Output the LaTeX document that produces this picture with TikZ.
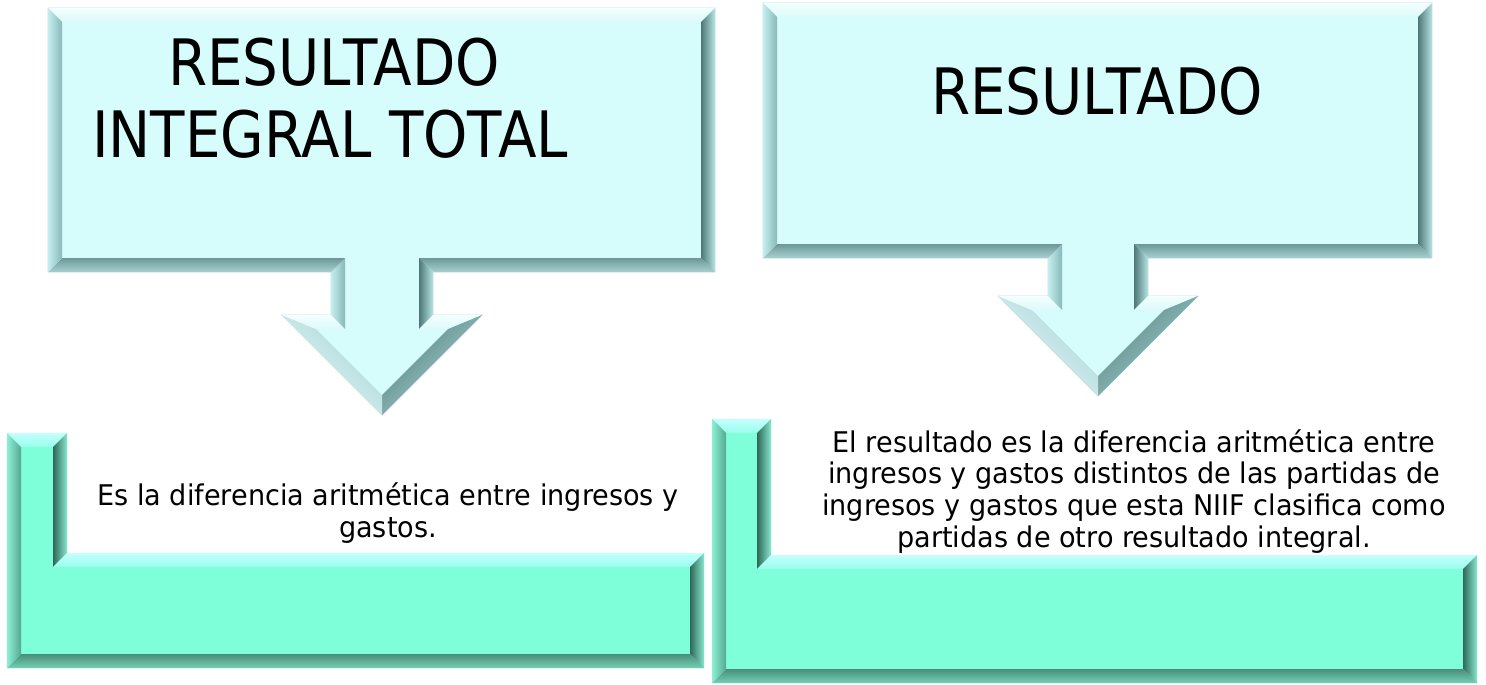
\documentclass[tikz,border=0pt]{standalone}
\usepackage{fontspec}
\newfontfamily\titlefont[FakeStretch=0.88]{DejaVu Sans}
\newfontfamily\bodyfont[FakeStretch=0.95]{DejaVu Sans}
\definecolor{cyBase}{HTML}{D6FCFC}
\definecolor{cyUo}{HTML}{F4FFFF}
\definecolor{cyUi}{HTML}{DCFAFA}
\definecolor{cyLo}{HTML}{C4EEEE}
\definecolor{cyLi}{HTML}{88B8B8}
\definecolor{cyRo}{HTML}{B8E4E4}
\definecolor{cyRi}{HTML}{4E7878}
\definecolor{cyDo}{HTML}{A8D0D0}
\definecolor{cyDi}{HTML}{6E9898}
\definecolor{cyDRo}{HTML}{A8D4D4}
\definecolor{cyDRi}{HTML}{5A8484}
\definecolor{cyDLo}{HTML}{ECFFFF}
\definecolor{cyDLi}{HTML}{A4D0D0}
\definecolor{cyEdge}{HTML}{C8DEDE}
\definecolor{aqBase}{HTML}{7EFFDA}
\definecolor{aqUo}{HTML}{C4FFFF}
\definecolor{aqUi}{HTML}{98FFEA}
\definecolor{aqLo}{HTML}{8AF0D4}
\definecolor{aqLi}{HTML}{56A890}
\definecolor{aqRo}{HTML}{88E8CE}
\definecolor{aqRi}{HTML}{2F6858}
\definecolor{aqDo}{HTML}{74D0B4}
\definecolor{aqDi}{HTML}{4A8E7A}
\newcommand\bv[5]{\path[#1] #2 -- #3 -- #4 -- #5 -- cycle;}
\tikzset{
  cU/.style={top color=cyUo, bottom color=cyUi},
  cD/.style={top color=cyDi, bottom color=cyDo},
  cL/.style={left color=cyLo, right color=cyLi},
  cR/.style={left color=cyRi, right color=cyRo},
  cDR/.style={top color=cyDRi, bottom color=cyDRo, shading angle=45},
  cDL/.style={top color=cyDLi, bottom color=cyDLo, shading angle=-45},
  aU/.style={top color=aqUo, bottom color=aqUi},
  aD/.style={top color=aqDi, bottom color=aqDo},
  aL/.style={left color=aqLo, right color=aqLi},
  aR/.style={left color=aqRi, right color=aqRo},
  titletext/.style={font=\titlefont\fontsize{64}{72}\selectfont, inner sep=0pt},
  bodytext/.style={font=\bodyfont\fontsize{28.5}{31.6}\selectfont, align=center, inner sep=0pt}
}
\begin{document}
\begin{tikzpicture}[x=1pt,y=-1pt]
\fill[white] (0,0) rectangle (1486,685);
\useasboundingbox (0,0) rectangle (1486,685);
% ---------- callout 1 ----------
\fill[cyBase, draw=cyEdge, line width=0.8pt] (48,8) -- (715,8) -- (715,272) -- (433,272) -- (433,315) -- (482,315) -- (382,415) -- (282,315) -- (331,315) -- (331,272) -- (48,272) -- cycle;
\bv{cU}{(48,8)}{(715,8)}{(701,22)}{(62,22)}
\bv{cR}{(715,8)}{(715,272)}{(701,258)}{(701,22)}
\bv{cD}{(715,272)}{(433,272)}{(419,258)}{(701,258)}
\bv{cR}{(433,272)}{(433,315)}{(419,329)}{(419,258)}
\bv{cU}{(433,315)}{(482,315)}{(448.2,329)}{(419,329)}
\bv{cDR}{(482,315)}{(382,415)}{(382,395.2)}{(448.2,329)}
\bv{cDL}{(382,415)}{(282,315)}{(315.8,329)}{(382,395.2)}
\bv{cU}{(282,315)}{(331,315)}{(345,329)}{(315.8,329)}
\bv{cL}{(331,315)}{(331,272)}{(345,258)}{(345,329)}
\bv{cD}{(331,272)}{(48,272)}{(62,258)}{(345,258)}
\bv{cL}{(48,272)}{(48,8)}{(62,22)}{(62,258)}
% ---------- callout 2 ----------
\fill[cyBase, draw=cyEdge, line width=0.8pt] (763,3) -- (1432,3) -- (1432,258) -- (1148,258) -- (1148,296) -- (1198,296) -- (1098,396) -- (998,296) -- (1048,296) -- (1048,258) -- (763,258) -- cycle;
\bv{cU}{(763,3)}{(1432,3)}{(1418,17)}{(777,17)}
\bv{cR}{(1432,3)}{(1432,258)}{(1418,244)}{(1418,17)}
\bv{cD}{(1432,258)}{(1148,258)}{(1134,244)}{(1418,244)}
\bv{cR}{(1148,258)}{(1148,296)}{(1134,310)}{(1134,244)}
\bv{cU}{(1148,296)}{(1198,296)}{(1164.2,310)}{(1134,310)}
\bv{cDR}{(1198,296)}{(1098,396)}{(1098,376.2)}{(1164.2,310)}
\bv{cDL}{(1098,396)}{(998,296)}{(1031.8,310)}{(1098,376.2)}
\bv{cU}{(998,296)}{(1048,296)}{(1062,310)}{(1031.8,310)}
\bv{cL}{(1048,296)}{(1048,258)}{(1062,244)}{(1062,310)}
\bv{cD}{(1048,258)}{(763,258)}{(777,244)}{(1062,244)}
\bv{cL}{(763,258)}{(763,3)}{(777,17)}{(777,244)}
% ---------- L shape 1 ----------
\fill[aqBase] (7,433) -- (67,433) -- (67,553) -- (704,553) -- (704,668) -- (7,668) -- cycle;
\bv{aU}{(7,433)}{(67,433)}{(53,447)}{(21,447)}
\bv{aR}{(67,433)}{(67,553)}{(53,567)}{(53,447)}
\bv{aU}{(67,553)}{(704,553)}{(690,567)}{(53,567)}
\bv{aR}{(704,553)}{(704,668)}{(690,654)}{(690,567)}
\bv{aD}{(704,668)}{(7,668)}{(21,654)}{(690,654)}
\bv{aL}{(7,668)}{(7,433)}{(21,447)}{(21,654)}
% ---------- L shape 2 ----------
\fill[aqBase] (712,419) -- (771,419) -- (771,555) -- (1477,555) -- (1477,683) -- (712,683) -- cycle;
\bv{aU}{(712,419)}{(771,419)}{(757,433)}{(726,433)}
\bv{aR}{(771,419)}{(771,555)}{(757,569)}{(757,433)}
\bv{aU}{(771,555)}{(1477,555)}{(1463,569)}{(757,569)}
\bv{aR}{(1477,555)}{(1477,683)}{(1463,669)}{(1463,569)}
\bv{aD}{(1477,683)}{(712,683)}{(726,669)}{(1463,669)}
\bv{aL}{(712,683)}{(712,419)}{(726,433)}{(726,669)}
% ---------- texts ----------
\node[titletext, anchor=base west] (t1a) at (168,85) {RESULTADO};
\node[titletext, anchor=base west] (t1b) at (92,157) {INTEGRAL TOTAL};
\node[titletext, anchor=base] (t2) at (1097,114) {RESULTADO};
\node[bodytext, anchor=base] (t3) at (388,537) {Es la diferencia aritmética entre ingresos y\\gastos.};
\node[bodytext, anchor=base] (t4) at (1134,547) {El resultado es la diferencia aritmética entre\\ingresos y gastos distintos de las partidas de\\ingresos y gastos que esta NIIF clasifica como\\partidas de otro resultado integral.};
\end{tikzpicture}
\end{document}
